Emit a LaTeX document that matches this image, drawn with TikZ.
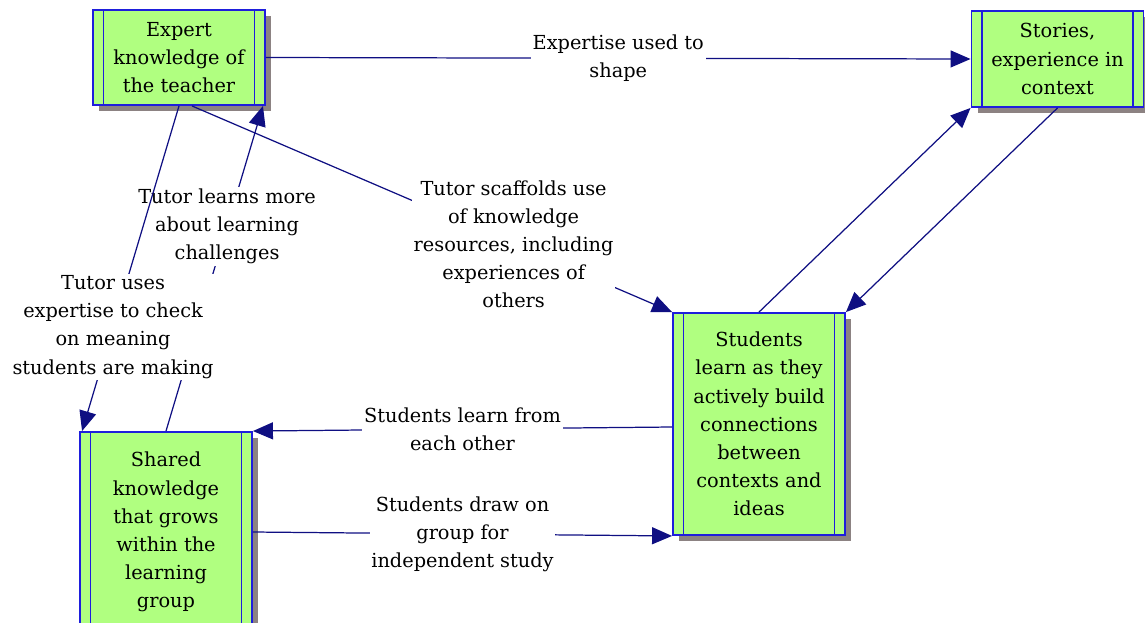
\documentclass[tikz,border=0pt]{standalone}
\usepackage{fontspec}
\setmainfont{DejaVu Serif}
\usepackage{tikz}
\usetikzlibrary{arrows.meta,calc,shadows}
\definecolor{boxgreen}{RGB}{176,255,128}
\definecolor{boxblue}{RGB}{30,30,220}
\definecolor{linknavy}{RGB}{15,15,130}
\definecolor{shadowgray}{RGB}{140,130,130}

\begin{document}
\begin{tikzpicture}[x=0.02cm, y=-0.02cm,
    store/.style={rectangle, draw=boxblue, line width=1.1pt, fill=boxgreen, minimum width=3.44cm,
      align=center, inner sep=0pt, font=\fontsize{11}{16}\selectfont,
      drop shadow={shadow xshift=0.12cm, shadow yshift=-0.12cm, fill=shadowgray, opacity=1},
      path picture={
        \draw[boxblue, line width=1.1pt] ([xshift=0.21cm]path picture bounding box.north west) -- ([xshift=0.21cm]path picture bounding box.south west);
        \draw[boxblue, line width=1.1pt] ([xshift=-0.21cm]path picture bounding box.north east) -- ([xshift=-0.21cm]path picture bounding box.south east);}},
    arr/.style={-{Triangle[length=4mm, width=3.4mm]}, line width=0.7pt, linknavy},
    lbl/.style={fill=white, text=black, align=center, inner sep=1pt, font=\fontsize{11}{16}\selectfont}]

    \useasboundingbox (0,0) rectangle (1145,622);

    % Stores
    \node[store, minimum height=1.9cm] (expert) at (179,57.5) {Expert\\knowledge of\\the teacher};
    \node[store, minimum height=1.92cm] (stories) at (1057.5,59) {Stories,\\experience in\\context};
    \node[store, minimum height=4.44cm] (students) at (759,424) {Students\\learn as they\\actively build\\connections\\between\\contexts and\\ideas};
    \node[store, minimum height=4cm] (shared) at (166,532) {Shared\\knowledge\\that grows\\within the\\learning\\group};

    % Flows
    \draw[arr] (expert.east) -- node[lbl] {Expertise used to\\shape} (stories.west);
    \draw[arr] ($(expert.south)+(13,0)$) -- node[lbl, pos=0.67] {Tutor scaffolds use\\of knowledge\\resources, including\\experiences of\\others} (students.north west);
    \draw[arr] (shared.north) -- node[lbl, pos=0.63] {Tutor learns more\\about learning\\challenges} ($(expert.south east)+(-3,0)$);
    \draw[arr] (expert.south) -- node[lbl, pos=0.68] {Tutor uses\\expertise to check\\on meaning\\students are making} ($(shared.north west)+(3,0)$);
    \draw[arr] ($(students.west)+(0,3)$) -- node[lbl] {Students learn from\\each other} (shared.north east);
    \draw[arr] (shared.east) -- node[lbl] {Students draw on\\group for\\independent study} (students.south west);
    \draw[arr] (students.north) -- (stories.south west);
    \draw[arr] (stories.south) -- (students.north east);
\end{tikzpicture}
\end{document}
